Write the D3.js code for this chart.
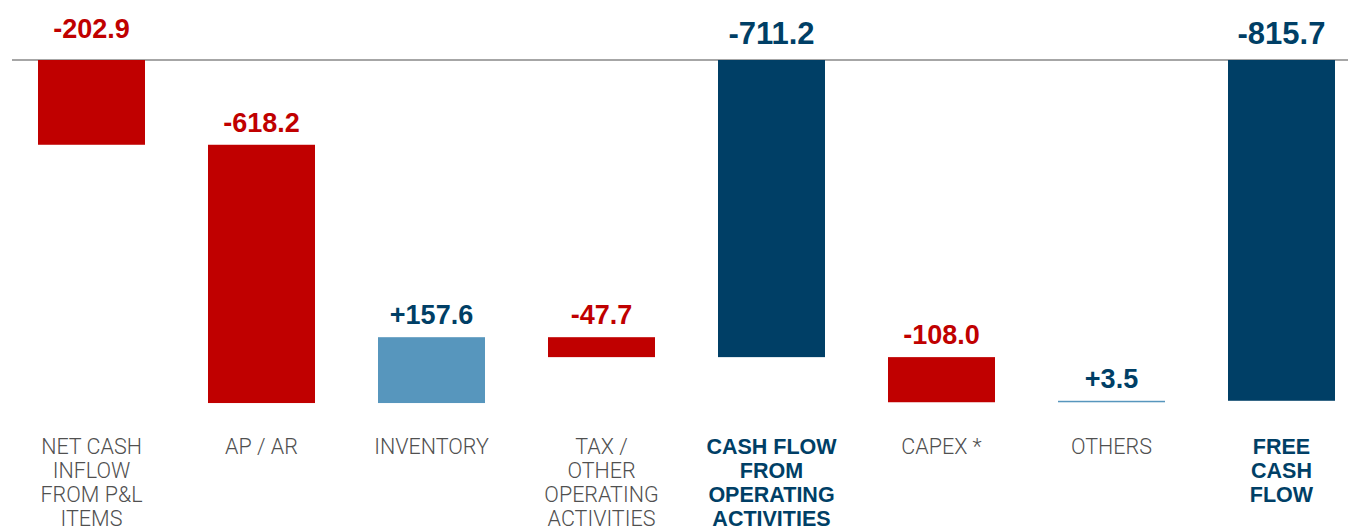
<!DOCTYPE html>
<html>
<head>
<meta charset="utf-8">
<script src="https://cdn.jsdelivr.net/npm/d3@7"></script>
<style>
  html, body { margin: 0; padding: 0; background: #fff; }
  svg { display: block; }
</style>
</head>
<body>
<svg id="chart" width="1348" height="526"></svg>
<script>
// Cash flow bridge (waterfall): step changes and subtotals
const categories = [
  "NET CASH INFLOW FROM P&L ITEMS",
  "AP / AR",
  "INVENTORY",
  "TAX / OTHER OPERATING ACTIVITIES",
  "CASH FLOW FROM OPERATING ACTIVITIES",
  "CAPEX *",
  "OTHERS",
  "FREE CASH FLOW"
];
const categoryLines = [
  ["NET CASH", "INFLOW", "FROM P&L", "ITEMS"],
  ["AP / AR"],
  ["INVENTORY"],
  ["TAX /", "OTHER", "OPERATING", "ACTIVITIES"],
  ["CASH FLOW", "FROM", "OPERATING", "ACTIVITIES"],
  ["CAPEX *"],
  ["OTHERS"],
  ["FREE", "CASH", "FLOW"]
];
const values = [-202.9, -618.2, 157.6, -47.7, -711.2, -108.0, 3.5, -815.7];
const isTotal = [false, false, false, false, true, false, false, true];

const colors = {
  neg: "#c00000",
  pos: "#5796bd",
  total: "#003f66",
  labelGray: "#505050",
  baseline: "#a6a6a6"
};

// Build running start/end for each step
let running = 0;
const data = categories.map((c, i) => {
  let start, end;
  if (isTotal[i]) {
    start = 0; end = values[i]; running = values[i];
  } else {
    start = running; end = running + values[i]; running = end;
  }
  return { cat: c, lines: categoryLines[i], value: values[i], total: isTotal[i], start, end };
});

const svg = d3.select("#chart");

const x = d3.scaleBand()
  .domain(categories)
  .range([6.5, 1366.5])
  .paddingInner(63 / 170)
  .paddingOuter(31.5 / 170);

const y = d3.scaleLinear()
  .domain([0, -900])
  .range([60, 436]);

// zero line
svg.append("line")
  .attr("x1", 12).attr("x2", 1348)
  .attr("y1", y(0)).attr("y2", y(0))
  .attr("stroke", colors.baseline)
  .attr("stroke-width", 2);

const fill = d => d.total ? colors.total : (d.value < 0 ? colors.neg : colors.pos);

// bars
svg.append("g").selectAll("rect")
  .data(data)
  .join("rect")
  .attr("x", d => x(d.cat))
  .attr("width", x.bandwidth())
  .attr("y", d => y(Math.max(d.start, d.end)))
  .attr("height", d => Math.max(1.5, Math.abs(y(d.start) - y(d.end))))
  .attr("fill", fill);

const fmt = v => (v > 0 ? "+" : "-") + d3.format(".1f")(Math.abs(v));

// value labels above each bar
svg.append("g").selectAll("text")
  .data(data)
  .join("text")
  .attr("x", d => x(d.cat) + x.bandwidth() / 2)
  .attr("y", d => {
    const top = y(Math.max(d.start, d.end));
    if (d.total) return top - 16;
    if (top <= y(0) + 0.5) return top - 22;
    return top - 13;
  })
  .attr("text-anchor", "middle")
  .attr("font-family", "'Liberation Sans', Arial, sans-serif")
  .attr("font-weight", "bold")
  .attr("font-size", d => d.total ? 31 : 27)
  .attr("fill", d => (d.value < 0 && !d.total) ? colors.neg : colors.total)
  .text(d => fmt(d.value));

// category labels
const catG = svg.append("g").selectAll("text")
  .data(data)
  .join("text")
  .attr("text-anchor", "middle")
  .attr("font-family", d => d.total ? "'Liberation Sans', Arial, sans-serif" : "Roboto, 'Liberation Sans', sans-serif")
  .attr("font-weight", d => d.total ? "bold" : 300)
  .attr("font-size", 21.5)
  .attr("fill", d => d.total ? colors.total : colors.labelGray);

catG.selectAll("tspan")
  .data(d => d.lines.map(l => ({ l, cx: x(d.cat) + x.bandwidth() / 2 })))
  .join("tspan")
  .attr("x", t => t.cx)
  .attr("y", (t, i) => 454 + i * 24)
  .text(t => t.l);
</script>
</body>
</html>
